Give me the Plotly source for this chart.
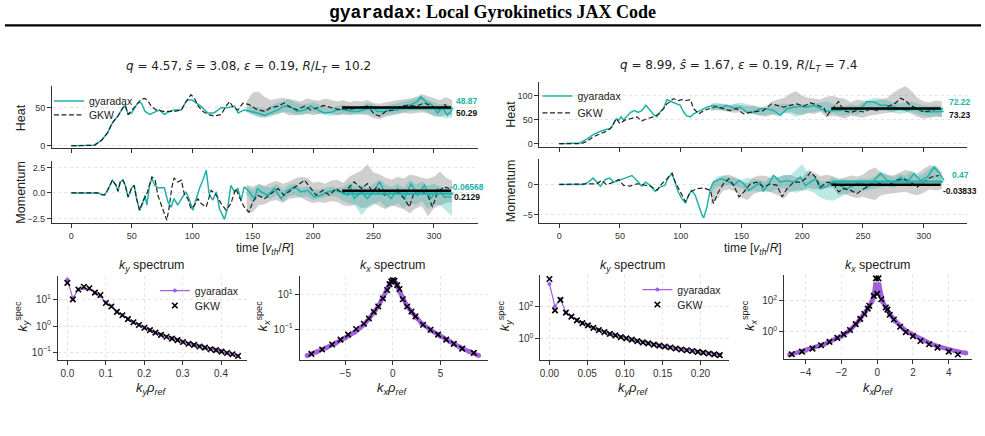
import plotly.graph_objects as go

W, H = 985, 436

# ---------------- DATA ----------------
TEAL = '#20b2aa'
PURPLE = '#a160e0'

# Left case: heat flux
LH_T_GX = [0,10,19,25,30,34,38.6,42.7,44.6,47,50,54,55.6,58,61,65,69,73,77,80,85,91,94.5,96,100,105,107,113,118,124,129,135,138,143,149,154,160,165,171,176,182,187,193,198,204,209,215,220,226,231,237,242,248,253,259,264,270,275,281,286,289,293,298,303,307,311,315]
LH_GX = [0,0,0.5,7,17,30,39,50,53,41,43,54,57,56,45,41,44,47,41,44,47,47,57,60,60,55,52,43,43,50,50,52,43,47,45,43,40,43,47,52,50,45,47,52,47,43,44,47,48,45,45,47,52,45,45,47,47,52,54,58,64,58,54,43,50,40,47]
LH_T_GKW = [0,10,19,25,30,34,38.6,42.7,44.6,47,51,55,58,60.6,63,66,70,76,80,85,91,95,99,102,105,109,113,118,124,128,131,134,138,142,147,153,160,165,171,176,182,187,193,198,204,209,215,220,229,237,245,251,255,260,267,273,278,285,292,298,303,309,312]
LH_GKW = [0,0,0.5,7,17,30,39,50,53,41,48,56,61,62,60,52,47,45,45,45,47,58,67,62,52,45,41,39,41,52,58,50,47,56,54,48,45,50,52,56,50,47,52,47,50,53,50,48,47,50,52,41,39,45,47,52,53,52,56,52,47,54,48]
L_BAND_T = list(range(145, 320, 5))
LH_GKW_HI = [58,70,71,64,60,62,63,61,60,58,62,60,59,62,60,58,60,57,59,58,60,56,55,57,58,60,61,62,64,68,65,62,60,64,60]
LH_GKW_LO = [45,42,38,37,40,41,44,40,40,41,42,40,41,43,42,40,41,40,42,41,40,36,35,38,40,41,43,42,43,44,42,40,38,41,40]
LH_GX_HI = [50,52,50,48,52,56,58,62,57,54,55,57,54,52,50,52,54,52,50,52,56,54,50,52,54,56,58,60,62,66,60,57,54,55,52]
LH_GX_LO = [44,40,38,37,38,42,44,44,41,40,42,44,42,40,39,40,42,41,40,42,42,40,38,40,41,42,44,46,46,47,44,38,38,36,37]

# Left case: momentum flux
LM_T_GX = [0,10,22,25,27.5,30,34,37,38.6,40.5,42.7,44.6,47,50,52,54,56.5,59,61,62.5,64.7,66.7,69,71.6,77,80,82.6,85,88,92,95,97.8,100.5,103,106,108.8,111.6,114,117,120,122.6,126.7,129.5,132,135,137.7,140.5,143,146,151.5,154,157,162.5,168,173.5,179,184.6,190,195.6,201,206.6,212,217.6,223,228.7,231,234,240,245,250.7,255,259,264.5,270,275.5,281,286.5,292,297.5,303,308.5,314]
LM_GX = [0,0,0,-0.16,-0.2,0.26,1.25,0.75,0.16,1.08,1.25,0.75,-0.4,0.5,0.75,-0.56,-1.7,-1.05,-0.23,-1.2,0.75,1.41,0.75,0.5,0.5,-0.9,-1.4,-0.55,-1.2,-0.4,0.1,-0.72,-1.7,-0.72,0.43,1.25,2.24,-0.07,-0.72,0.1,-1.55,-2.6,-1.38,0.75,0.1,0.43,-0.72,0.6,0.26,-0.56,0.43,0.1,-0.23,0.43,-0.56,0.26,0.6,0.1,0.26,-0.4,-0.23,0.1,0.26,0.1,-0.23,0.6,-0.56,0.1,-0.56,0.26,1.08,0.1,-0.56,0.43,-0.56,0.92,-0.23,0.75,-0.56,0.43,-0.4,-0.4]
LM_T_GKW = [0,10,22,25,27.5,30,34,37,38.6,40.5,42.7,44.6,47,50,52,54,56.5,59,63,66.7,69.4,71.6,74,77,79,81,83,85,88,91,93.7,96.4,99,102,104.7,107.4,111.6,115.7,120,124,128,132,136,139,143,147,150,154,160,165,171,176,182,187,193,197,202.5,208,213.5,219,224.5,230,234,240,245,249,253,259,264.5,270,275.5,279.6,283.7,289,294.8,298.8,303,308.5,312.7]
LM_GKW = [0,0,0,-0.16,-0.2,0.26,1.25,0.75,0.16,1.08,1.25,0.75,-0.4,0.5,0.75,-0.56,-1.7,-0.9,0.1,1.58,1.25,-0.23,-1.05,-2.2,-2.7,-1.38,0.43,1.48,1.08,1.25,-0.23,-0.56,-1.55,-1.2,-0.56,-1.05,-1.38,0.26,-0.23,-1.05,-1.7,-1.05,0.43,-0.4,-1.38,-1.88,-0.9,-0.23,-0.56,-0.07,0.43,-0.23,0.26,0.75,1.25,0.6,-0.23,0.26,-0.23,0.43,-0.07,0.6,1.08,0.43,0.92,0.1,0.6,-0.23,0.26,0.1,-0.56,-1.38,0.1,0.26,-0.23,-1.38,0.1,0.6,0.43]
LM_GKW_HI = [0.8,0.6,0.9,0.7,1.0,1.2,0.9,1.1,1.4,1.6,1.5,1.0,1.1,0.9,1.2,1.3,1.0,1.6,1.9,2.2,2.8,2.0,1.8,1.5,1.3,1.6,1.4,1.8,1.7,1.5,1.4,1.6,2.1,1.5,1.2]
LM_GKW_LO = [-2.0,-1.9,-1.2,-1.1,-0.8,-0.7,-1.0,-0.6,-0.5,-0.4,-0.8,-1.0,-0.9,-1.0,-0.8,-0.9,-1.2,-1.3,-1.1,-1.5,-1.4,-1.0,-1.3,-1.6,-1.2,-1.4,-1.6,-2.0,-1.5,-1.3,-2.3,-1.5,-1.2,-1.0,-0.9]
LM_GX_HI = [0.7,0.3,0.8,0.6,0.5,0.9,0.3,0.8,0.9,0.5,0.6,0.4,0.3,0.5,0.6,0.5,0.6,1.0,0.7,0.8,0.5,0.9,1.3,0.8,0.6,0.9,0.5,1.3,0.8,1.1,0.7,0.9,0.6,0.5,0.3]
LM_GX_LO = [-0.1,-1.0,-0.3,-0.5,-0.6,-0.2,-0.9,-0.3,-0.2,-0.5,-0.3,-0.7,-0.6,-0.4,-0.3,-0.4,-0.8,-1.0,-1.3,-2.2,-1.5,-1.2,-0.8,-1.4,-1.3,-1.0,-1.5,-0.9,-1.2,-0.8,-1.6,-1.1,-1.2,-1.8,-2.3]

# Right case: heat flux
RH_T_GX = [0,14.5,17,23,28,34,39,42,45,47,49,51,53,56,58.5,62,65,68,71.4,75,78,80.5,83,86,88.7,92,95.6,99.7,102.5,105,108,110.7,116,121.7,127,132.7,138,143.7,149,154.7,160,165.6,171,176.6,182,187.6,193,198.6,204,209.6,215,220.6,226,231.6,237,242.6,248,253.6,259,264.5,270,275.5,281,286.3,292,297.3,303,311,316.5]
RH_GX = [0,0,1.5,10,19,26,30,30,42,52,49,56,49,59,65,69,65,69,80,69,60,56,66,74,92,88,85,80,66,58,56,62,69,76,80,73,80,74,76,65,66,73,73,69,59,73,76,78,76,80,73,67,69,69,73,69,73,88,87,80,80,76,73,69,76,69,66,66,67]
RH_T_GKW = [0,18,23,28,34,39,43.4,47,50,54,58.5,64,68,72,78,82,86,88.7,91.5,94,98,101,105,108,110.7,115,119,124.4,130,135,141,146,152,157,163,168,175,179,185,190,196,201,207,212,218,220.6,226,230,234,240,245,251,256,262,267,273,277,281,285,289,294.5,300,305.5,312.6]
RH_GKW = [0,0,5,14,21,26,35,52,42,49,52,56,47,52,56,62,73,83,88,94,90,92,90,92,73,62,69,74,78,73,69,73,62,65,67,69,83,80,76,80,83,78,85,81,74,59,76,88,69,65,69,66,72,69,73,80,85,95,90,80,73,66,69,73]
R_BAND_T = list(range(125, 320, 5))
RH_GKW_HI = [80,82,84,80,82,80,78,80,76,78,88,92,95,104,110,100,96,94,92,98,100,96,94,86,92,90,88,90,92,96,106,114,120,110,96,88,86,90,88]
RH_GKW_LO = [68,70,68,66,64,66,64,62,58,56,60,62,64,66,62,60,64,62,66,55,58,56,52,58,56,54,58,60,62,64,66,70,68,62,56,52,54,56,55]
RH_GX_HI = [84,86,82,80,84,86,82,78,76,74,78,80,84,82,80,82,82,84,86,88,84,80,78,82,80,86,92,96,94,90,86,84,86,88,84,80,78,80,76]
RH_GX_LO = [70,72,70,68,70,72,62,62,60,60,62,56,64,62,56,60,64,66,68,62,64,60,58,62,60,66,72,76,74,68,64,62,64,66,62,58,56,58,56]

# Right case: momentum flux
RM_T_GX = [0,20,24,28,31,34,38,41.5,45,49,53,56,60,64,68,71,75,79,83,87,90,93,95.6,98,101,104,106.6,109,112,115,117.6,119,121.7,124.5,127,132.7,138,143.7,148,152,156,160,165.6,168,172.5,176.6,182,187.6,193,198.6,202.7,206.9,211,215,220.6,226,231.6,237,242.6,248,253.6,259,264.5,270,275.5,281,286.3,292,297.5,303,308.5,312.6,316.8]
RM_GX = [0,0,0.38,1.04,0.38,-0.33,0.82,1.04,0.38,0.66,0.93,1.2,1.48,0.66,-0.27,0.38,-0.16,-1.15,-0.44,-0.16,1.2,1.76,0.11,-1.26,-2.36,-3.08,-1.81,-0.99,-1.81,-3.74,-5.1,-5.55,-3.74,-0.71,0.38,0.93,0.66,-0.16,0.66,0.11,-0.99,-0.44,0.38,-1.15,0.11,1.48,0.38,0.66,0.38,1.2,-0.16,0.38,0.93,-0.71,-0.27,0.38,-0.27,-0.71,-0.16,0.38,-0.44,0.66,1.76,0.66,0.38,1.2,0.38,1.76,0.66,1.2,2.86,2.03,0.66]
RM_T_GKW = [0,25,31,35,39,45,49,53,58.5,64,69.5,75,80.5,84.6,88.7,93,95.6,99.7,104,108,113.5,119,124.5,127,131,135.4,139.6,143.7,148,152,157.4,163,168.4,174,179.4,183.5,187.6,193,198.6,202.7,206.9,211,215,220.6,226,230,234,240,245,250.8,256,262,267,272.8,278,283.8,289,294.8,300,305.8,312.6]
RM_GKW = [0,0,0.1,0.66,-0.05,0.38,0.82,-0.16,-0.27,0.11,-0.05,-0.27,-0.99,0.11,0.93,1.87,0.38,-1.26,-2.91,-1.26,-0.71,-0.6,-0.99,-3.19,-1.26,0.11,0.93,-0.16,-2.09,-1.26,0.11,0.38,-0.44,0.11,-0.16,-2.09,-0.71,0.38,0.38,0.93,2.03,1.2,-0.44,0.38,0.11,-1.26,-0.71,-0.99,-1.54,-0.71,-0.16,0.38,-0.16,0.11,0.66,0.93,0.38,-0.44,0.38,1.2,1.48]
RM_GKW_HI = [0.0,0.8,1.5,1.6,1.2,0.5,0.2,1.2,1.5,1.4,1.0,1.2,1.5,1.6,1.2,1.2,2.4,2.0,1.4,1.6,1.4,0.8,1.2,1.5,1.3,1.6,2.4,2.8,2.0,1.6,1.5,2.0,2.4,2.2,1.8,2.6,3.2,3.0,2.0]
RM_GKW_LO = [-3.4,-2.4,-1.0,-0.8,-1.2,-2.2,-2.6,-1.6,-1.2,-1.0,-1.4,-1.8,-2.4,-1.2,-1.0,-1.0,-0.6,-0.8,-0.8,-0.6,-0.5,-1.8,-1.6,-2.0,-2.3,-2.0,-2.4,-2.6,-1.8,-1.6,-1.5,-1.4,-1.2,-1.6,-1.8,-1.4,-0.8,-1.0,-0.8]
RM_GX_HI = [0.2,1.3,1.5,1.3,1.0,0.8,1.1,0.9,0.6,0.5,1.6,1.2,1.6,1.5,2.4,3.4,1.8,1.4,0.6,0.5,1.2,1.0,0.8,0.7,0.8,1.0,0.9,1.4,2.2,1.6,1.2,1.7,1.5,2.2,1.4,1.8,2.6,3.2,1.2]
RM_GX_LO = [-1.4,-0.4,-0.2,-0.1,-0.4,-0.6,-1.3,-1.0,-1.2,-1.3,-1.2,-0.8,-0.6,-1.2,-1.4,-1.0,-1.0,-1.4,-2.2,-2.6,-2.7,-2.3,-1.7,-1.4,-1.3,-1.1,-0.9,-0.6,-0.4,-0.3,-0.6,-0.2,0.0,-0.4,-0.2,0.0,0.7,0.6,0.0]

# time-averages over the saturated window
AVG_WINDOW = [224, 314]
MEANS = {
    'LH': (48.87, 50.29), 'LM': (-0.06568, 0.2129),
    'RH': (72.22, 73.23), 'RM': (0.47, -0.03833),
}
MEAN_LABELS = {
    'LH': ('48.87', '50.29'), 'LM': ('-0.06568', '0.2129'),
    'RH': ('72.22', '73.23'), 'RM': ('0.47', '-0.03833'),
}

# Spectra
KY_L = [0,0.0143,0.0287,0.043,0.0573,0.0717,0.086,0.1003,0.1147,0.129,0.1433,0.1577,0.172,0.1863,0.2007,0.215,0.2293,0.2437,0.258,0.2723,0.2867,0.301,0.3153,0.3297,0.344,0.3583,0.3727,0.387,0.4013,0.4157,0.43,0.4443]
KY_L_GX = [60,11.5,25,28,27,19,14,7.9,5.7,3.6,2.6,1.9,1.4,1.12,0.87,0.71,0.56,0.47,0.39,0.34,0.29,0.25,0.21,0.19,0.17,0.15,0.135,0.12,0.11,0.094,0.084,0.072]
KY_L_GKW = [45,10.5,25,32,28,19,15.5,7.6,5.6,3.5,2.6,1.85,1.4,1.1,0.86,0.7,0.56,0.46,0.39,0.33,0.29,0.245,0.21,0.19,0.165,0.15,0.13,0.12,0.105,0.093,0.083,0.071]

KX_L_GX_X = [-9.0,-8.0,-7.0,-6.0,-5.0,-4.0,-3.0,-2.5,-2.0,-1.5,-1.0,-0.7,-0.5,-0.3,-0.15,0,0.15,0.3,0.5,0.7,1.0,1.5,2.0,2.5,3.0,4.0,5.0,6.0,7.0,8.0,9.0]
KX_L_GX = [0.0028,0.0045,0.0079,0.015,0.03,0.066,0.19,0.4,0.95,2.3,7.1,15.8,28,48,63,71,66,50,30,16.6,7.1,2.2,0.95,0.45,0.22,0.083,0.038,0.018,0.0089,0.0048,0.0028]
KX_L_GKW_X = [-8.56,-7.43,-6.38,-5.5,-4.7,-3.86,-3.05,-2.52,-2.0,-1.54,-1.05,-0.6,-0.35,-0.17,0.0,0.17,0.45,0.69,1.04,1.5,1.95,2.37,3.17,3.95,4.75,5.6,6.4,7.28,8.5]
KX_L_GKW = [0.0035,0.0063,0.0123,0.024,0.047,0.1,0.204,0.417,1.02,2.09,6.2,19.5,43.6,63,74,69,38,22.4,5.6,2.09,1.07,0.55,0.178,0.091,0.047,0.024,0.0135,0.0071,0.004]

KY_R = [0,0.0073,0.0146,0.0218,0.0291,0.0364,0.0437,0.051,0.0582,0.0655,0.0728,0.0801,0.0874,0.0946,0.1019,0.1092,0.1165,0.1238,0.131,0.1383,0.1456,0.1529,0.1602,0.1674,0.1747,0.182,0.1893,0.1966,0.2038,0.2111,0.2184,0.2257]
KY_R_GX = [2450,100,280,43,24,14.5,9.6,6.9,4.9,3.55,2.7,2.1,1.67,1.33,1.1,0.91,0.75,0.63,0.54,0.45,0.39,0.34,0.30,0.26,0.23,0.20,0.185,0.16,0.145,0.13,0.115,0.105]
KY_R_GKW = [4900,57,256,42,23.5,14,9.4,6.8,4.8,3.5,2.65,2.05,1.65,1.3,1.08,0.9,0.74,0.62,0.53,0.45,0.39,0.34,0.295,0.26,0.225,0.2,0.18,0.16,0.143,0.128,0.113,0.1]

KX_R_GX_X = [-4.9,-4.0,-3.0,-2.0,-1.5,-1.0,-0.7,-0.5,-0.3,-0.2,-0.1,0,0.1,0.2,0.3,0.5,0.7,1.0,1.5,2.0,2.5,3.0,3.5,4.0,4.5,4.95]
KX_R_GX = [0.032,0.063,0.15,0.52,1.35,5.6,15.8,35,89,200,1120,310,1120,200,89,35,14,5.2,1.4,0.63,0.32,0.166,0.105,0.071,0.052,0.042]
KX_R_GKW_X = [-4.78,-4.21,-3.62,-3.14,-2.67,-2.23,-1.87,-1.52,-1.2,-0.95,-0.72,-0.53,-0.44,-0.19,-0.07,0,0.07,0.23,0.48,0.57,0.7,0.93,1.28,1.6,2.0,2.42,2.9,3.37,4.0,4.51]
KX_R_GKW = [0.035,0.052,0.081,0.135,0.22,0.4,0.68,1.29,3.1,6.8,14.1,31,48,209,2800,280,2800,126,37,27,12.6,6.2,2.1,0.95,0.52,0.25,0.155,0.095,0.052,0.034]

# ---------------- FIGURE ----------------
def xd(a, b):
    return [a / W, b / W]

def yd(top, bot):
    return [1 - bot / H, 1 - top / H]

fig = go.Figure()

def nm(i, axis):
    return axis if i == 1 else f'{axis}{i}'

def add_band(i, t, lo, hi, color):
    n = min(len(t), len(lo), len(hi))
    fig.add_trace(go.Scatter(x=t[:n], y=hi[:n], mode='lines', line=dict(width=0),
                             xaxis=nm(i, 'x'), yaxis=nm(i, 'y'), showlegend=False, hoverinfo='skip'))
    fig.add_trace(go.Scatter(x=t[:n], y=lo[:n], mode='lines', line=dict(width=0), fill='tonexty',
                             fillcolor=color, xaxis=nm(i, 'x'), yaxis=nm(i, 'y'), showlegend=False,
                             hoverinfo='skip'))

GRAY_BAND = 'rgba(140,140,140,0.42)'
TEAL_BAND = 'rgba(32,178,170,0.30)'

def time_panel(i, t_gx, gx, t_gkw, gkw, bt, gk_lo, gk_hi, gx_lo, gx_hi, key, legs=None):
    add_band(i, bt, gk_lo, gk_hi, GRAY_BAND)
    add_band(i, bt, gx_lo, gx_hi, TEAL_BAND)
    la, lb = legs if legs else ('legend', 'legend')
    n = min(len(t_gx), len(gx))
    fig.add_trace(go.Scatter(x=t_gx[:n], y=gx[:n], mode='lines', name='gyaradax',
                             line=dict(color=TEAL, width=1.5), xaxis=nm(i, 'x'), yaxis=nm(i, 'y'),
                             showlegend=legs is not None, legend=la))
    n = min(len(t_gkw), len(gkw))
    fig.add_trace(go.Scatter(x=t_gkw[:n], y=gkw[:n], mode='lines', name='GKW',
                             line=dict(color='#222222', width=1.2, dash='5px,2.5px'),
                             xaxis=nm(i, 'x'), yaxis=nm(i, 'y'),
                             showlegend=legs is not None, legend=lb))
    mg, mk = MEANS[key]
    fig.add_trace(go.Scatter(x=[AVG_WINDOW[0], AVG_WINDOW[1] + 2], y=[mg, mg], mode='lines',
                             line=dict(color=TEAL, width=2.2), xaxis=nm(i, 'x'), yaxis=nm(i, 'y'),
                             showlegend=False))
    fig.add_trace(go.Scatter(x=AVG_WINDOW, y=[mk, mk], mode='lines',
                             line=dict(color='black', width=2.5), xaxis=nm(i, 'x'), yaxis=nm(i, 'y'),
                             showlegend=False))

time_panel(1, LH_T_GX, LH_GX, LH_T_GKW, LH_GKW, L_BAND_T, LH_GKW_LO, LH_GKW_HI, LH_GX_LO, LH_GX_HI, 'LH', ('legend', 'legend2'))
time_panel(2, LM_T_GX, LM_GX, LM_T_GKW, LM_GKW, L_BAND_T, LM_GKW_LO, LM_GKW_HI, LM_GX_LO, LM_GX_HI, 'LM')
time_panel(3, RH_T_GX, RH_GX, RH_T_GKW, RH_GKW, R_BAND_T, RH_GKW_LO, RH_GKW_HI, RH_GX_LO, RH_GX_HI, 'RH', ('legend3', 'legend4'))
time_panel(4, RM_T_GX, RM_GX, RM_T_GKW, RM_GKW, R_BAND_T, RM_GKW_LO, RM_GKW_HI, RM_GX_LO, RM_GX_HI, 'RM')

def spec_panel(i, xg, yg, xk, yk, thick, legs=None):
    if thick:
        line = dict(color=PURPLE, width=4.5)
        marker = dict(color=PURPLE, size=5)
    else:
        line = dict(color=PURPLE, width=1.2)
        marker = dict(color=PURPLE, size=4)
    la, lb = legs if legs else ('legend', 'legend')
    fig.add_trace(go.Scatter(x=xg, y=yg, mode='lines+markers', name='gyaradax', line=line, marker=marker,
                             xaxis=nm(i, 'x'), yaxis=nm(i, 'y'), showlegend=legs is not None, legend=la))
    fig.add_trace(go.Scatter(x=xk, y=yk, mode='markers', name='GKW',
                             marker=dict(symbol='x-thin', size=5.5, line=dict(color='black', width=1.6),
                                         color='black'),
                             xaxis=nm(i, 'x'), yaxis=nm(i, 'y'), showlegend=legs is not None, legend=lb))

spec_panel(5, KY_L, KY_L_GX, KY_L, KY_L_GKW, False, ('legend5', 'legend6'))
spec_panel(6, KX_L_GX_X, KX_L_GX, KX_L_GKW_X, KX_L_GKW, True)
spec_panel(7, KY_R, KY_R_GX, KY_R, KY_R_GKW, False, ('legend7', 'legend8'))
spec_panel(8, KX_R_GX_X, KX_R_GX, KX_R_GKW_X, KX_R_GKW, True)

# ---------------- AXES ----------------
TXT = '#333333'
SANS = 'Liberation Sans'
GRID = '#e4e4e4'

def base_axis(**kw):
    d = dict(showline=True, linecolor='#333333', linewidth=1, ticks='outside', ticklen=4, tickwidth=1,
             tickcolor='#333333', tickfont=dict(family=SANS, size=9, color=TXT), zeroline=False,
             showgrid=False, gridcolor=GRID, griddash='dot', gridwidth=1, fixedrange=True)
    d.update(kw)
    return d

TIME_TICKS = [0, 50, 100, 150, 200, 250, 300]
PANEL_GEOM = {
    1: ((51, 477), (87, 149)),
    2: ((51, 477), (162, 225)),
    3: ((539, 967), (83, 148)),
    4: ((539, 967), (160, 225)),
    5: ((57, 246), (278, 362)),
    6: ((299, 487), (278, 362)),
    7: ((540, 729), (277, 362)),
    8: ((784, 972), (277, 361)),
}
XR = {1: [-16, 336], 2: [-16, 336], 3: [-16.2, 335.7], 4: [-16.2, 335.7],
      5: [-0.0245, 0.467], 6: [-9.79, 9.94], 7: [-0.0119, 0.2383], 8: [-5.2, 5.3]}
YR = {1: [-3.0, 77.9], 2: [-3.0, 3.15], 3: [-6.9, 127.7], 4: [-6.49, 4.24],
      5: [-1.281, 1.913], 6: [-2.79, 2.11], 7: [-1.266, 3.93], 8: [-1.73, 3.66]}

layout_axes = {}
for i in range(1, 9):
    (xa, xb), (yt, yb) = PANEL_GEOM[i]
    xk = 'xaxis' if i == 1 else f'xaxis{i}'
    yk = 'yaxis' if i == 1 else f'yaxis{i}'
    if i <= 4:
        xax = base_axis(domain=xd(xa, xb), range=XR[i], anchor=nm(i, 'y'), tickvals=TIME_TICKS,
                        showticklabels=(i in (2, 4)), tickfont=dict(family=SANS, size=9, color=TXT))
        yax = base_axis(domain=yd(yt, yb), range=YR[i], anchor=nm(i, 'x'), showgrid=True)
    else:
        xax = base_axis(domain=xd(xa, xb), range=XR[i], anchor=nm(i, 'y'), showgrid=True,
                        tickfont=dict(family=SANS, size=10, color=TXT))
        yax = base_axis(domain=yd(yt, yb), range=YR[i], anchor=nm(i, 'x'), type='log', showgrid=True,
                        tickfont=dict(family=SANS, size=10, color=TXT))
    layout_axes[xk] = xax
    layout_axes[yk] = yax

layout_axes['yaxis'].update(tickvals=[0, 50], ticktext=['0', '50'])
layout_axes['yaxis2'].update(tickvals=[-2.5, 0, 2.5], ticktext=['\u22122.5', '0.0', '2.5'])
layout_axes['yaxis3'].update(tickvals=[0, 50, 100], ticktext=['0', '50', '100'])
layout_axes['yaxis4'].update(tickvals=[-5, 0], ticktext=['\u22125', '0'])
layout_axes['xaxis5'].update(tickvals=[0, 0.1, 0.2, 0.3, 0.4], ticktext=['0.0', '0.1', '0.2', '0.3', '0.4'])
layout_axes['yaxis5'].update(tickvals=[0.1, 1, 10], ticktext=['10<sup>\u22121</sup>', '10<sup>0</sup>', '10<sup>1</sup>'])
layout_axes['xaxis6'].update(tickvals=[-5, 0, 5], ticktext=['\u22125', '0', '5'])
layout_axes['yaxis6'].update(tickvals=[0.1, 10], ticktext=['10<sup>\u22121</sup>', '10<sup>1</sup>'])
layout_axes['xaxis7'].update(tickvals=[0, 0.05, 0.1, 0.15, 0.2], ticktext=['0.00', '0.05', '0.10', '0.15', '0.20'])
layout_axes['yaxis7'].update(tickvals=[1, 100], ticktext=['10<sup>0</sup>', '10<sup>2</sup>'])
layout_axes['xaxis8'].update(tickvals=[-4, -2, 0, 2, 4], ticktext=['\u22124', '\u22122', '0', '2', '4'])
layout_axes['yaxis8'].update(tickvals=[1, 100], ticktext=['10<sup>0</sup>', '10<sup>2</sup>'])

# ---------------- TEXT ----------------
ann = []

def txt(x, y, s, size=12, family=SANS, color=TXT, angle=0, xanchor='center', yanchor='middle'):
    ann.append(dict(x=x / W, y=1 - y / H, xref='paper', yref='paper', text=s, showarrow=False,
                    font=dict(family=family, size=size, color=color), textangle=angle,
                    xanchor=xanchor, yanchor=yanchor))

# title
txt(492, 13, '<span style="font-family:\'Liberation Mono\'"><b>gyaradax</b></span><b>: Local Gyrokinetics JAX Code</b>',
    size=18, family='Liberation Serif', color='black')

MATH = 'DejaVu Sans'
txt(248, 67, '<i>q</i> = 4.57, <i>ŝ</i> = 3.08, <i>ε</i> = 0.19, <i>R</i>/<i>L<sub>T</sub></i> = 10.2', size=12, family=MATH, color='#222')
txt(738, 66, '<i>q</i> = 8.99, <i>ŝ</i> = 1.67, <i>ε</i> = 0.19, <i>R</i>/<i>L<sub>T</sub></i> = 7.4', size=12, family=MATH, color='#222')

txt(20, 118, 'Heat', size=12.5, angle=-90, color='#222')
txt(20, 193, 'Momentum', size=12.5, angle=-90, color='#222')
txt(511, 115, 'Heat', size=12.5, angle=-90, color='#222')
txt(510, 192, 'Momentum', size=12.5, angle=-90, color='#222')
txt(264, 251, 'time [<i>v<sub>th</sub></i>/<i>R</i>]', size=12, color='#222')
txt(753, 251, 'time [<i>v<sub>th</sub></i>/<i>R</i>]', size=12, color='#222')

for cx, title, xl in [(151, '<i>k<sub>y</sub></i> spectrum', '<i>k<sub>y</sub>ρ<sub>ref</sub></i>'),
                      (392, '<i>k<sub>x</sub></i> spectrum', '<i>k<sub>x</sub>ρ<sub>ref</sub></i>'),
                      (633, '<i>k<sub>y</sub></i> spectrum', '<i>k<sub>y</sub>ρ<sub>ref</sub></i>'),
                      (878, '<i>k<sub>x</sub></i> spectrum', '<i>k<sub>x</sub>ρ<sub>ref</sub></i>')]:
    txt(cx, 268, title, size=12.5, color='#222')
    txt(cx, 391, xl, size=13, color='#222')
for cx, s in [(21, '<i>k<sub>y</sub></i><sup>spec</sup>'), (262, '<i>k<sub>x</sub></i><sup>spec</sup>'),
              (504, '<i>k<sub>y</sub></i><sup>spec</sup>'), (749, '<i>k<sub>x</sub></i><sup>spec</sup>')]:
    txt(cx, 318, s, size=13, angle=-90, color='#222')

# mean value labels (data coordinates)
for i, key, xc in [(1, 'LH', 327), (2, 'LM', 327), (3, 'RH', 330), (4, 'RM', 330)]:
    mg, mk = MEANS[key]
    lg, lk = MEAN_LABELS[key]
    ann.append(dict(x=xc, y=mg, xref=nm(i, 'x'), yref=nm(i, 'y'), text=f'<b>{lg}</b>', showarrow=False,
                    font=dict(family=SANS, size=8.5, color=TEAL), yshift=7, xanchor='center'))
    ann.append(dict(x=xc, y=mk, xref=nm(i, 'x'), yref=nm(i, 'y'), text=f'<b>{lk}</b>', showarrow=False,
                    font=dict(family=SANS, size=8.5, color='#111'), yshift=-6, xanchor='center'))

leg_common = dict(bgcolor='rgba(0,0,0,0)', font=dict(family=SANS, size=10.5, color='#222'),
                  xanchor='left', yanchor='top', tracegroupgap=0, itemwidth=30, traceorder='normal')

def leg(x, top):
    d = dict(x=x / W, y=1 - top / H)
    d.update(leg_common)
    return d

fig.update_layout(
    width=W, height=H, margin=dict(l=0, r=0, t=0, b=0),
    paper_bgcolor='white', plot_bgcolor='white',
    annotations=ann,
    shapes=[dict(type='line', xref='paper', yref='paper', x0=4 / W, x1=981 / W,
                 y0=1 - 25.5 / H, y1=1 - 25.5 / H, line=dict(color='black', width=2.2))],
    legend=leg(48, 87), legend2=leg(48, 101),
    legend3=leg(537, 82), legend4=leg(537, 99),
    legend5=leg(154, 278), legend6=leg(154, 293),
    legend7=leg(637, 277), legend8=leg(637, 292),
    **layout_axes,
)

fig.write_html('out.html')
